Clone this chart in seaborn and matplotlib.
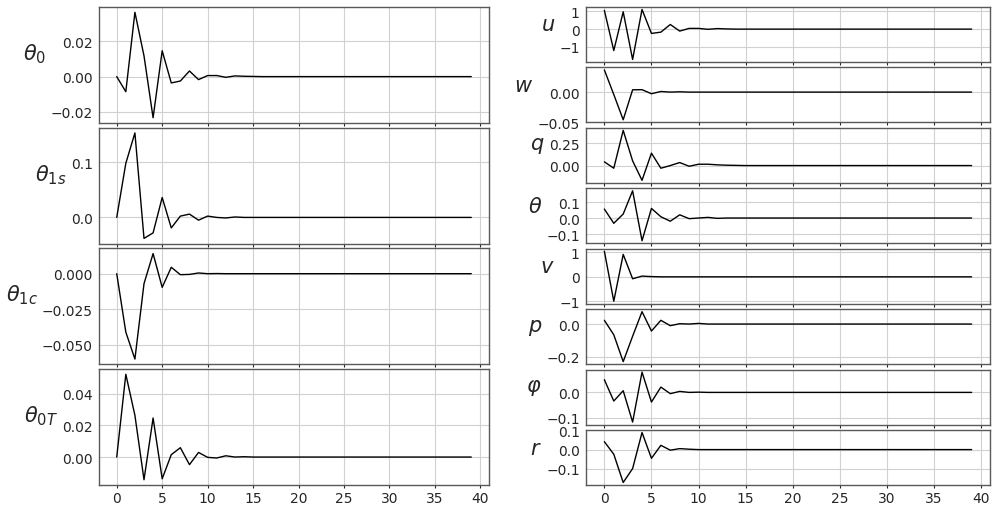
import matplotlib
matplotlib.use("Agg")
import matplotlib.pyplot as plt
import seaborn as sns
import pandas as pd

steps = list(range(40))
xtick_values = [0, 5, 10, 15, 20, 25, 30, 35, 40]

labels_left = [r"$\theta_0$", r"$\theta_{1s}$", r"$\theta_{1c}$", r"$\theta_{0T}$"]
labels_right = [r"$u$", r"$w$", r"$q$", r"$\theta$", r"$v$", r"$p$", r"$\varphi$", r"$r$"]

yticks_left = [[-0.02, 0.0, 0.02], [0.0, 0.1], [-0.05, -0.025, 0.0], [0.0, 0.02, 0.04]]
yticks_right = [[-1, 0, 1], [-0.05, 0.0], [0.0, 0.25], [-0.1, 0.0, 0.1],
                [-1, 0, 1], [-0.2, 0.0], [-0.1, 0.0], [-0.1, 0.0, 0.1]]
yfmt_left = ["{:.2f}", "{:.1f}", "{:.3f}", "{:.2f}"]
yfmt_right = ["{:.0f}", "{:.2f}", "{:.2f}", "{:.1f}", "{:.0f}", "{:.1f}", "{:.1f}", "{:.1f}"]

theta0 = [0.0, -0.0086, 0.0366, 0.0118, -0.0234, 0.0147, -0.0036, -0.0025, 0.0032, -0.0017,
          0.0006, 0.0006, -0.0004, 0.0004, 0.0002, 0.0001, 0.0, 0.0, 0.0, 0.0,
          0.0, 0.0, 0.0, 0.0, 0.0, 0.0, 0.0, 0.0, 0.0, 0.0,
          0.0, 0.0, 0.0, 0.0, 0.0, 0.0, 0.0, 0.0, 0.0, 0.0]
theta1s = [0.0, 0.098, 0.153, -0.038, -0.028, 0.036, -0.019, 0.0024, 0.006, -0.005,
           0.0024, 0.0, -0.001, 0.0008, 0.0, 0.0, 0.0, 0.0, 0.0, 0.0,
           0.0, 0.0, 0.0, 0.0, 0.0, 0.0, 0.0, 0.0, 0.0, 0.0,
           0.0, 0.0, 0.0, 0.0, 0.0, 0.0, 0.0, 0.0, 0.0, 0.0]
theta1c = [0.0, -0.041, -0.0599, -0.007, 0.0141, -0.0096, 0.0045, -0.0007, -0.0005, 0.0005,
           0.0, 0.0001, 0.0, 0.0, 0.0, 0.0, 0.0, 0.0, 0.0, 0.0,
           0.0, 0.0, 0.0, 0.0, 0.0, 0.0, 0.0, 0.0, 0.0, 0.0,
           0.0, 0.0, 0.0, 0.0, 0.0, 0.0, 0.0, 0.0, 0.0, 0.0]
theta0T = [0.0, 0.0522, 0.0263, -0.0143, 0.0246, -0.0137, 0.0015, 0.0059, -0.0048, 0.0029,
           -0.0002, -0.0006, 0.0008, 0.0, 0.0002, 0.0, 0.0, 0.0, 0.0, 0.0,
           0.0, 0.0, 0.0, 0.0, 0.0, 0.0, 0.0, 0.0, 0.0, 0.0,
           0.0, 0.0, 0.0, 0.0, 0.0, 0.0, 0.0, 0.0, 0.0, 0.0]

u = [1.05, -1.2, 0.97, -1.7, 1.1, -0.24, -0.17, 0.26, -0.11, 0.04,
     0.04, -0.01, 0.03, 0.01, 0.0, 0.0, 0.0, 0.0, 0.0, 0.0,
     0.0, 0.0, 0.0, 0.0, 0.0, 0.0, 0.0, 0.0, 0.0, 0.0,
     0.0, 0.0, 0.0, 0.0, 0.0, 0.0, 0.0, 0.0, 0.0, 0.0]
w = [0.0366, -0.004, -0.0457, 0.0038, 0.004, -0.0027, 0.001, 0.0, 0.0005, 0.0,
     0.0, 0.0, 0.0, 0.0, 0.0, 0.0, 0.0, 0.0, 0.0, 0.0,
     0.0, 0.0, 0.0, 0.0, 0.0, 0.0, 0.0, 0.0, 0.0, 0.0,
     0.0, 0.0, 0.0, 0.0, 0.0, 0.0, 0.0, 0.0, 0.0, 0.0]
q = [0.042, -0.03, 0.398, 0.053, -0.167, 0.14, -0.03, 0.0, 0.034, -0.008,
     0.015, 0.015, 0.008, 0.004, 0.002, 0.0, 0.0, 0.0, 0.0, 0.0,
     0.0, 0.0, 0.0, 0.0, 0.0, 0.0, 0.0, 0.0, 0.0, 0.0,
     0.0, 0.0, 0.0, 0.0, 0.0, 0.0, 0.0, 0.0, 0.0, 0.0]
theta = [0.056, -0.033, 0.025, 0.17, -0.142, 0.06, 0.008, -0.02, 0.02, -0.004,
         0.0, 0.004, -0.002, 0.0, 0.0, 0.0, 0.0, 0.0, 0.0, 0.0,
         0.0, 0.0, 0.0, 0.0, 0.0, 0.0, 0.0, 0.0, 0.0, 0.0,
         0.0, 0.0, 0.0, 0.0, 0.0, 0.0, 0.0, 0.0, 0.0, 0.0]
v = [1.05, -1.0, 0.92, -0.08, 0.03, 0.01, 0.0, 0.0, 0.0, 0.0,
     0.0, 0.0, 0.0, 0.0, 0.0, 0.0, 0.0, 0.0, 0.0, 0.0,
     0.0, 0.0, 0.0, 0.0, 0.0, 0.0, 0.0, 0.0, 0.0, 0.0,
     0.0, 0.0, 0.0, 0.0, 0.0, 0.0, 0.0, 0.0, 0.0, 0.0]
p = [0.023, -0.066, -0.231, -0.075, 0.076, -0.043, 0.023, -0.01, 0.002, 0.0,
     0.004, 0.0, 0.0, 0.0, 0.0, 0.0, 0.0, 0.0, 0.0, 0.0,
     0.0, 0.0, 0.0, 0.0, 0.0, 0.0, 0.0, 0.0, 0.0, 0.0,
     0.0, 0.0, 0.0, 0.0, 0.0, 0.0, 0.0, 0.0, 0.0, 0.0]
phi = [0.05, -0.034, 0.0066, -0.117, 0.08, -0.038, 0.021, -0.005, 0.004, 0.0,
       0.001, 0.0, 0.0, 0.0, 0.0, 0.0, 0.0, 0.0, 0.0, 0.0,
       0.0, 0.0, 0.0, 0.0, 0.0, 0.0, 0.0, 0.0, 0.0, 0.0,
       0.0, 0.0, 0.0, 0.0, 0.0, 0.0, 0.0, 0.0, 0.0, 0.0]
r = [0.041, -0.024, -0.17, -0.098, 0.088, -0.045, 0.022, -0.003, 0.005, 0.002,
     0.0, 0.0, 0.0, 0.0, 0.0, 0.0, 0.0, 0.0, 0.0, 0.0,
     0.0, 0.0, 0.0, 0.0, 0.0, 0.0, 0.0, 0.0, 0.0, 0.0,
     0.0, 0.0, 0.0, 0.0, 0.0, 0.0, 0.0, 0.0, 0.0, 0.0]

left_series = [theta0, theta1s, theta1c, theta0T]
right_series = [u, w, q, theta, v, p, phi, r]

sns.set_style("whitegrid", {"axes.edgecolor": ".35", "xtick.bottom": True,
                            "xtick.color": ".15", "ytick.color": ".15",
                            "grid.color": ".82"})
plt.rcParams["font.family"] = ["DejaVu Sans"]
plt.rcParams["xtick.labelsize"] = 10
plt.rcParams["ytick.labelsize"] = 10
plt.rcParams["xtick.major.size"] = 2.5
plt.rcParams["xtick.major.pad"] = 2.0
plt.rcParams["ytick.major.size"] = 2.5
plt.rcParams["ytick.major.pad"] = 2.0
plt.rcParams["xtick.major.width"] = 0.8
plt.rcParams["axes.linewidth"] = 1.0
plt.rcParams["axes.unicode_minus"] = True

W, H = 997, 506
fig = plt.figure(figsize=(W / 100, H / 100), dpi=100)

gl = fig.add_gridspec(4, 1, left=99 / W, right=489 / W, top=1 - 8 / H, bottom=1 - 486 / H, hspace=0.04)
gr = fig.add_gridspec(8, 1, left=586 / W, right=990 / W, top=1 - 8 / H, bottom=1 - 486 / H, hspace=0.1)


def draw(ax, vals, label, yt, fmt, show_x):
    df = pd.DataFrame({"step": steps, "value": vals})
    sns.lineplot(data=df, x="step", y="value", ax=ax, color="black", linewidth=1.0)
    ax.set_xlabel("")
    ax.set_ylabel(label, rotation=0, fontsize=15, ha="right", labelpad=3)
    ax.set_xticks(xtick_values)
    ax.set_xlim(-1.95, 40.95)
    ax.set_yticks(yt)
    ax.set_yticklabels([fmt.format(t).replace("-", "\u2212") for t in yt])
    if not show_x:
        ax.tick_params(axis="x", labelbottom=False)


for i, (vals, lab) in enumerate(zip(left_series, labels_left)):
    ax = fig.add_subplot(gl[i])
    draw(ax, vals, lab, yticks_left[i], yfmt_left[i], i == 3)

for i, (vals, lab) in enumerate(zip(right_series, labels_right)):
    ax = fig.add_subplot(gr[i])
    draw(ax, vals, lab, yticks_right[i], yfmt_right[i], i == 7)

fig.savefig("out.png", dpi=100)
